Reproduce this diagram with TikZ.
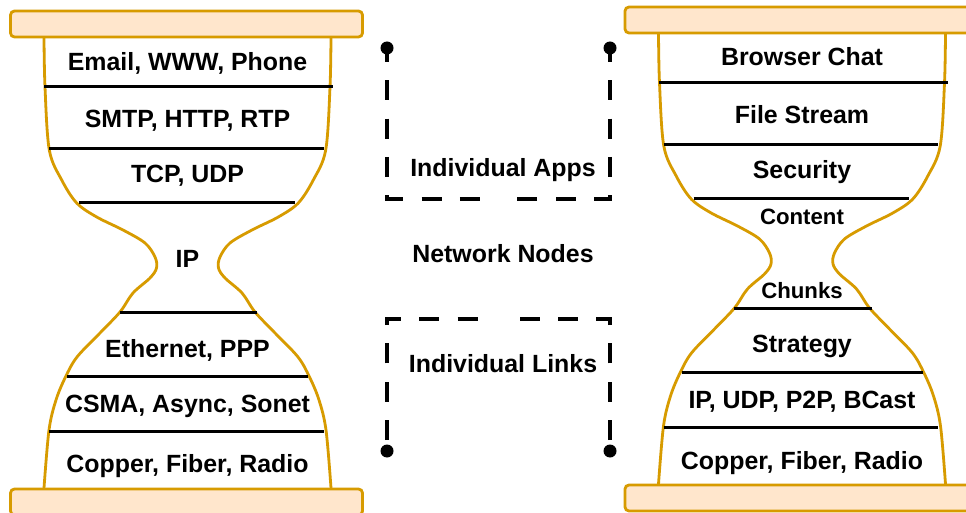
\documentclass[tikz,border=0pt]{standalone}
\usepackage{fontspec}
\setmainfont{Liberation Sans}
\definecolor{rimgold}{HTML}{D79B00}
\definecolor{platefill}{HTML}{FFE6CC}
\tikzset{
  rim/.style={draw=rimgold, line width=2.8pt},
  plate/.style={draw=rimgold, fill=platefill, line width=2.8pt, rounded corners=4pt},
  layer/.style={draw=black, line width=3pt},
  lbl/.style={font=\fontsize{24.9}{28}\selectfont\bfseries, anchor=base, inner sep=0pt},
  lblsm/.style={font=\fontsize{22.2}{26}\selectfont\bfseries, anchor=base, inner sep=0pt},
  pin/.style={circle, fill=black, inner sep=0pt, minimum size=13pt},
  bracket/.style={draw=black, line width=4pt, dash pattern=on 20pt off 18.3pt, dash phase=6pt},
  % hourglass frame: origin at the centre of the top rim, y grows downwards
  glass/.pic={
    \draw[rim] plot[smooth, tension=0.55] coordinates {
      (-143.5,0) (-142.5,50) (-138.2,113) (-125.8,143) (-110.8,166) (-90.8,180)
      (-64.5,193) (-42.5,206) (-32.5,220) (-31,231) (-37.5,241) (-54.5,256)
      (-67.5,275) (-87.5,296) (-110.5,320) (-122,340) (-131.5,363) (-138.5,393) (-143.5,451)};
    \draw[rim] plot[smooth, tension=0.55] coordinates {
      (143.5,0) (142.5,50) (138.2,113) (125.8,143) (110.8,166) (90.8,180)
      (64.5,193) (42.5,206) (32.5,220) (31,231) (37.5,241) (54.5,256)
      (67.5,275) (87.5,296) (110.5,320) (122,340) (131.5,363) (138.5,393) (143.5,451)};
    \draw[layer] (-143.5,50) -- (145.5,50);
    \draw[layer] (-138.5,112) -- (136,112);
    \draw[layer] (-108.5,166) -- (107,166);
    \draw[layer] (-68,275) -- (69.5,275);
    \draw[layer] (-120.5,339) -- (120.5,339);
    \draw[layer] (-138.5,394) -- (136,394);
    \draw[plate] (-177,-26) rectangle (175,0);
    \draw[plate] (-177,452) rectangle (175,478);
  }
}
\begin{document}
\begin{tikzpicture}[x=1pt, y=-1pt]
  \clip (0,0) rectangle (966,513);
  \fill[white] (0,0) rectangle (966,513);

  % internet protocol stack
  \begin{scope}[shift={(187.5,37)}]
    \pic {glass};
    \node[lbl] (app)  at (0,33.5) {Email, WWW, Phone};
    \node[lbl] (prot) at (0,91)   {SMTP, HTTP, RTP};
    \node[lbl] (trn)  at (0,146)  {TCP, UDP};
    \node[lbl] (ip)   at (0,230)  {IP};
    \node[lbl] (lnk)  at (0,320)  {Ethernet, PPP};
    \node[lbl] (mac)  at (0,375)  {CSMA, Async, Sonet};
    \node[lbl] (phy)  at (0,435)  {Copper, Fiber, Radio};
  \end{scope}

  % content-centric stack
  \begin{scope}[shift={(802,33)}]
    \pic {glass};
    \node[lbl]   (brw) at (0,33)  {Browser Chat};
    \node[lbl]   (fst) at (0,91)  {File Stream};
    \node[lbl]   (sec) at (0,146) {Security};
    \node[lblsm] (cnt) at (0,192) {Content};
    \node[lblsm] (chk) at (0,265) {Chunks};
    \node[lbl]   (str) at (0,319) {Strategy};
    \node[lbl]   (net) at (0,375) {IP, UDP, P2P, BCast};
    \node[lbl]   (cph) at (0,436) {Copper, Fiber, Radio};
  \end{scope}

  % middle legend
  \node[lbl] (apps)  at (503,177) {Individual Apps};
  \node[lbl] (nodes) at (503,262) {Network Nodes};
  \node[lbl] (links) at (503,372) {Individual Links};

  \node[pin] (ta) at (387,48) {};
  \node[pin] (tb) at (610,48) {};
  \coordinate (tm1) at (495,199);
  \coordinate (tm2) at (502,199);
  \draw[bracket] (ta.center) |- (tm1);
  \draw[bracket] (tb.center) |- (tm2);

  \node[pin] (ba) at (387,451) {};
  \node[pin] (bb) at (610,451) {};
  \coordinate (bm1) at (495,319);
  \coordinate (bm2) at (502,319);
  \draw[bracket, dash phase=27.3pt] (ba.center) |- (bm1);
  \draw[bracket, dash phase=27.3pt] (bb.center) |- (bm2);
\end{tikzpicture}
\end{document}
